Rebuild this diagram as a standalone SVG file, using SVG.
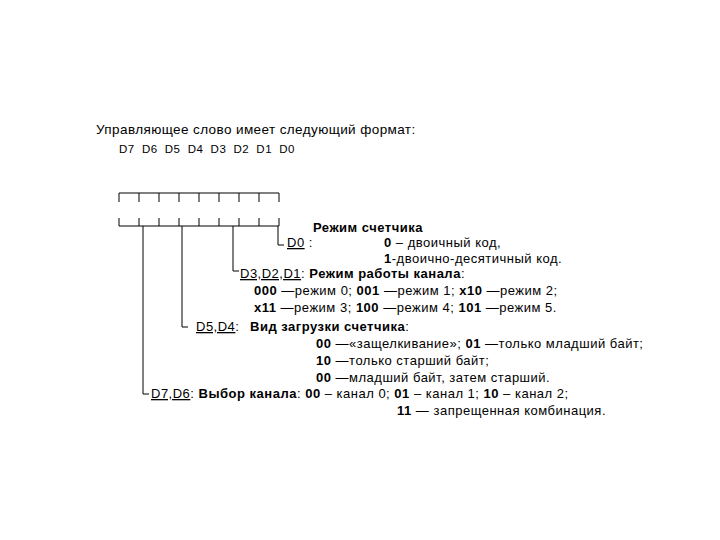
<svg xmlns="http://www.w3.org/2000/svg" width="720" height="540" viewBox="0 0 720 540">
<style>
text{font-family:"Liberation Sans",Arial,sans-serif;font-size:13px;letter-spacing:0.5px;fill:#000}
.b{font-weight:bold}
.u{text-decoration:underline}
line,path{stroke:#000;stroke-width:1;fill:none}
</style>
<rect width="720" height="540" fill="#fff"/>
<text x="96" y="134" style="font-size:13.5px;letter-spacing:0.4px">Управляющее слово имеет следующий формат:</text>
<text x="119" y="153" style="font-size:11.5px" word-spacing="3.5">D7 D6 D5 D4 D3 D2 D1 D0</text>
<g id="register">
<path d="M119,193H279M119,193v9M139,193v9M159,193v9M179,193v9M199,193v9M219,193v9M239,193v9M259,193v9M279,193v9"/>
<path d="M119,226H279M119,226v-8M139,226v-8M159,226v-8M179,226v-8M199,226v-8M219,226v-8M239,226v-8M259,226v-8M279,226v-8"/>
</g>
<g id="connectors">
<path d="M278,226V245H284"/>
<path d="M233,226V271H239"/>
<path d="M182,226V327H188"/>
<path d="M143,226V394H149"/>
</g>
<g id="d0">
<text x="313" y="232" class="b">Режим счетчика</text>
<text x="287" y="247"><tspan class="u">D0</tspan> :</text>
<text x="384" y="247"><tspan class="b">0</tspan> – двоичный код,</text>
<text x="384" y="263"><tspan class="b">1</tspan>-двоично-десятичный код.</text>
</g>
<g id="d3d2d1">
<text x="240" y="278"><tspan class="u">D3,D2,D1</tspan>:  <tspan class="b">Режим работы канала</tspan>:</text>
<text x="254" y="295"><tspan class="b">000</tspan> —режим 0; <tspan class="b">001</tspan> —режим 1; <tspan class="b">x10</tspan> —режим 2;</text>
<text x="254" y="312"><tspan class="b">x11</tspan> —режим 3; <tspan class="b">100</tspan> —режим 4; <tspan class="b">101</tspan> —режим 5.</text>
</g>
<g id="d5d4">
<text x="196" y="331"><tspan class="u">D5,D4</tspan>:</text>
<text x="250" y="331"><tspan class="b">Вид загрузки счетчика</tspan>:</text>
<text x="316" y="348"><tspan class="b">00</tspan> —«защелкивание»; <tspan class="b">01</tspan> —только младший байт;</text>
<text x="316" y="365"><tspan class="b">10</tspan> —только старший байт;</text>
<text x="316" y="382"><tspan class="b">00</tspan> —младший байт, затем старший.</text>
</g>
<g id="d7d6">
<text x="151" y="398"><tspan class="u">D7,D6</tspan>:  <tspan class="b">Выбор канала</tspan>: <tspan class="b">00</tspan> – канал 0; <tspan class="b">01</tspan> – канал 1; <tspan class="b">10</tspan> – канал 2;</text>
<text x="397" y="415"><tspan class="b">11</tspan> — запрещенная комбинация.</text>
</g>
</svg>
